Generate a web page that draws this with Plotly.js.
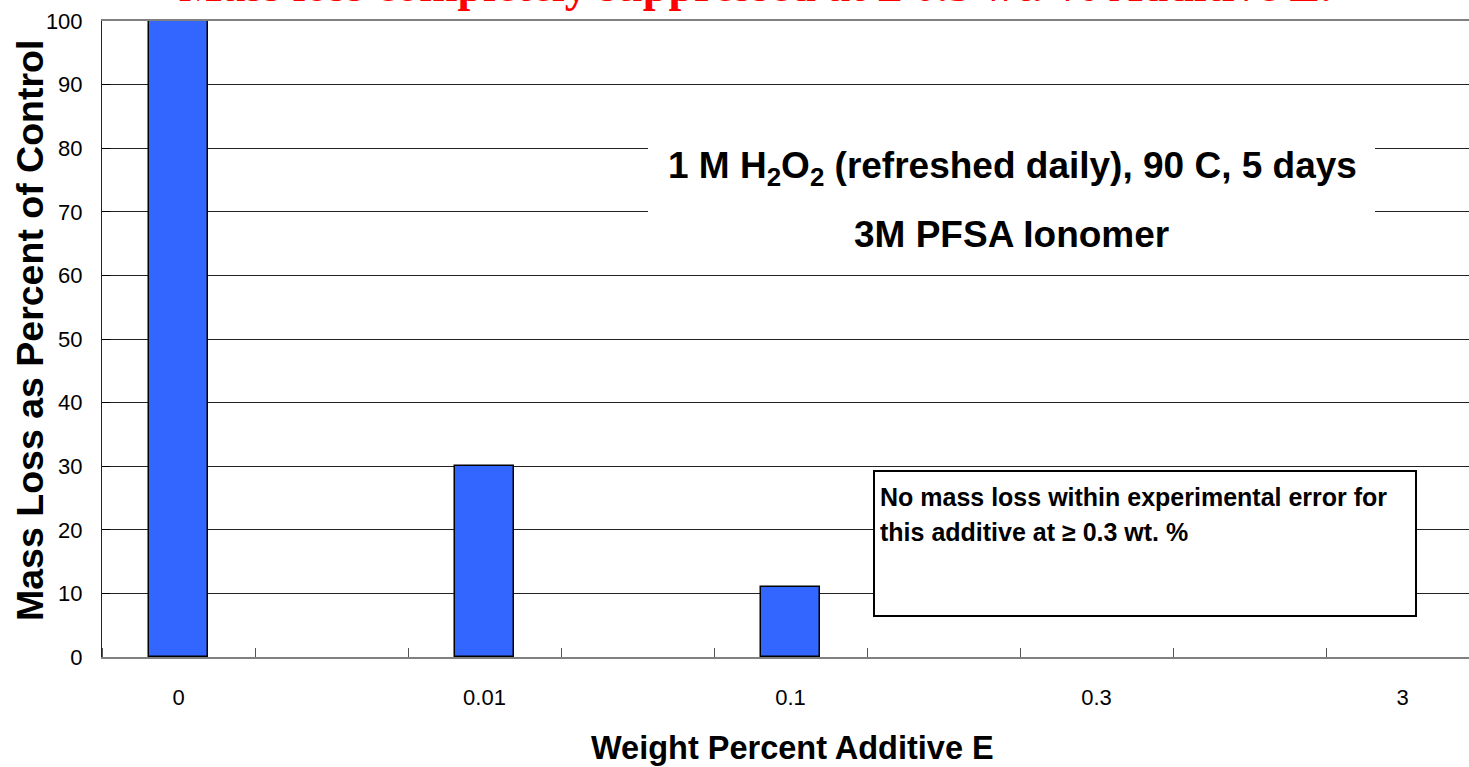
<!DOCTYPE html>
<html>
<head>
<meta charset="utf-8">
<script src="https://cdn.plot.ly/plotly-3.0.1.min.js"></script>
<style>
  html, body { margin: 0; padding: 0; background: #ffffff; overflow: hidden; }
  #chart { width: 1469px; height: 767px; }
</style>
</head>
<body>
<div id="chart"></div>
<script>
// ---- Data ----
const categories = ['0', '0.01', '0.1', '0.3', '3'];          // weight percent additive E
const massLossPct = [100, 30, 11, 0, 0];                      // mass loss as % of control
const chartTitle = 'Mass loss completely suppressed at \u2265 0.3 wt. % Additive E.';
const conditionLine1 = '1 M H<sub>2</sub>O<sub>2</sub> (refreshed daily), 90 C, 5 days';
const conditionLine2 = '3M PFSA Ionomer';
const noteLine1 = 'No mass loss within experimental error for';
const noteLine2 = 'this additive at \u2265 0.3 wt. %';
const xTitle = 'Weight Percent Additive E';
const yTitle = 'Mass Loss as Percent of Control';

// categories sit on every other slot of the axis (empty slots between them)
const slotPos = categories.map((c, i) => 2 * i);

const sans = 'Liberation Sans, Arial, Helvetica, sans-serif';
const serif = 'Liberation Serif, Times New Roman, serif';

const trace = {
  type: 'bar',
  x: slotPos,
  y: massLossPct,
  width: 0.392,
  marker: { color: '#3366FF', line: { color: '#000000', width: massLossPct.map(v => (v > 0 ? 1.5 : 0)) } },
  hoverinfo: 'x+y',
  showlegend: false
};

const layout = {
  width: 1469,
  height: 767,
  margin: { l: 102, r: 0, t: 21, b: 110 },
  paper_bgcolor: '#ffffff',
  plot_bgcolor: '#ffffff',
  font: { family: sans, color: '#000000' },
  bargap: 0,
  xaxis: {
    range: [-0.5, -0.5 + 1367 / 153],
    tickmode: 'array',
    tickvals: slotPos,
    ticktext: categories,
    ticks: '',
    ticklabelstandoff: 20,
    tickfont: { family: sans, size: 22, color: '#000000' },
    showgrid: false,
    zeroline: false,
    showline: true,
    linecolor: '#808080',
    linewidth: 2,
    mirror: true,
    minor: { tickmode: 'linear', tick0: 0.5, dtick: 1, ticks: 'inside', ticklen: 9, tickcolor: '#555555', tickwidth: 1, showgrid: false },
    fixedrange: true
  },
  yaxis: {
    range: [0, 100],
    tickmode: 'linear',
    tick0: 0,
    dtick: 10,
    ticks: 'inside',
    ticklen: 8,
    tickcolor: '#000000',
    ticklabelstandoff: 14,
    tickfont: { family: sans, size: 22, color: '#000000' },
    showgrid: true,
    gridcolor: '#222222',
    gridwidth: 1,
    zeroline: false,
    showline: true,
    linecolor: '#222222',
    linewidth: 1,
    fixedrange: true
  },
  shapes: [
    { type: 'rect', xref: 'paper', yref: 'paper', layer: 'above',
      x0: (648 - 102) / 1367, x1: (1375 - 102) / 1367, y0: (657 - 264) / 636, y1: (657 - 112) / 636,
      fillcolor: '#ffffff', line: { width: 0 } },
    { type: 'rect', xref: 'paper', yref: 'paper', layer: 'above',
      x0: (874 - 102) / 1367, x1: (1416 - 102) / 1367, y0: (657 - 616) / 636, y1: (657 - 471) / 636,
      fillcolor: '#ffffff', line: { color: '#000000', width: 2 } }
  ],
  annotations: [
    { xref: 'paper', yref: 'paper', x: (755 - 102) / 1367, y: 1, yshift: 36, xanchor: 'center', yanchor: 'middle',
      text: chartTitle, showarrow: false, font: { family: serif, size: 46, color: '#FF0000', weight: 'bold' } },
    { xref: 'paper', yref: 'paper', x: (30 - 102) / 1367, y: (657 - 331) / 636, xanchor: 'center', yanchor: 'middle',
      textangle: -90, text: yTitle, showarrow: false, font: { family: sans, size: 37.5, color: '#000000', weight: 'bold' } },
    { xref: 'paper', yref: 'paper', x: (792 - 102) / 1367, y: (657 - 748) / 636, xanchor: 'center', yanchor: 'middle',
      text: xTitle, showarrow: false, font: { family: sans, size: 32.5, color: '#000000', weight: 'bold' } },
    { xref: 'paper', yref: 'paper', x: (1012 - 102) / 1367, y: (657 - 168) / 636, xanchor: 'center', yanchor: 'middle',
      text: conditionLine1, showarrow: false, font: { family: sans, size: 37, color: '#000000', weight: 'bold' } },
    { xref: 'paper', yref: 'paper', x: (1011 - 102) / 1367, y: (657 - 234) / 636, xanchor: 'center', yanchor: 'middle',
      text: conditionLine2, showarrow: false, font: { family: sans, size: 37, color: '#000000', weight: 'bold' } },
    { xref: 'paper', yref: 'paper', x: (878 - 102) / 1367, y: (657 - 497) / 636, xanchor: 'left', yanchor: 'middle',
      text: noteLine1, showarrow: false, font: { family: sans, size: 25, color: '#000000', weight: 'bold' } },
    { xref: 'paper', yref: 'paper', x: (878 - 102) / 1367, y: (657 - 532) / 636, xanchor: 'left', yanchor: 'middle',
      text: noteLine2, showarrow: false, font: { family: sans, size: 25, color: '#000000', weight: 'bold' } }
  ]
};

Plotly.newPlot('chart', [trace], layout, { displayModeBar: false, responsive: false });
</script>
</body>
</html>
